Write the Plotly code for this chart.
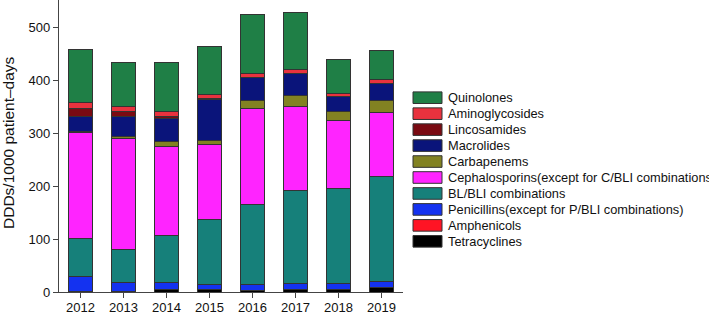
import plotly.graph_objects as go

years = ["2012", "2013", "2014", "2015", "2016", "2017", "2018", "2019"]

tetracyclines = [0.5, 0.5, 3.8, 4.4, 2.0, 5.0, 5.0, 7.6]
amphenicols = [0.3, 0.3, 0.3, 0.3, 0.3, 0.3, 0.3, 0.3]
penicillins = [29.0, 17.5, 14.0, 9.8, 12.7, 11.0, 11.0, 12.9]
bl_bli = [71.0, 62.3, 89.6, 122.0, 150.0, 175.7, 180.2, 197.7]
cephalosporins = [200.0, 209.4, 168.3, 143.0, 181.0, 158.0, 127.2, 121.0]
carbapenems = [3.0, 3.4, 8.6, 7.5, 16.7, 21.5, 17.3, 23.2]
macrolides = [28.5, 38.6, 44.1, 77.6, 42.3, 41.5, 28.0, 31.3]
lincosamides = [15.0, 9.0, 2.3, 2.0, 1.0, 1.0, 1.5, 1.0]
aminoglycosides = [10.5, 9.7, 11.0, 7.4, 7.0, 6.6, 5.5, 7.4]
quinolones = [101.0, 82.3, 91.0, 90.0, 111.5, 107.4, 63.5, 54.1]

names = [
    "Tetracyclines",
    "Amphenicols",
    "Penicillins(except for P/BLI combinations)",
    "BL/BLI combinations",
    "Cephalosporins(except for C/BLI combinations)",
    "Carbapenems",
    "Macrolides",
    "Lincosamides",
    "Aminoglycosides",
    "Quinolones",
]
series = [tetracyclines, amphenicols, penicillins, bl_bli, cephalosporins,
          carbapenems, macrolides, lincosamides, aminoglycosides, quinolones]
colors = ["#000000", "#ff1424", "#1432f0", "#16807a", "#ff24ff",
          "#828222", "#0a147a", "#7a0a12", "#e8323e", "#1f7f46"]

fig = go.Figure()
for name, vals, col in zip(names, series, colors):
    fig.add_trace(go.Bar(
        x=years, y=vals, name=name,
        marker=dict(color=col, line=dict(color="#333333", width=1)),
        showlegend=False,
    ))

# plot area geometry (pixels)
W, H = 709, 314
L, R, T, B = 59, 306, 0, 22
pw = W - L - R
ph = H - T - B

def px_x(x):
    return (x - L) / pw

def px_y(y):
    return (T + ph - y) / ph

shapes = []
annotations = []
row0 = 97.7
step = 15.96
for i, (name, col) in enumerate(zip(names[::-1], colors[::-1])):
    yc = row0 + i * step
    shapes.append(dict(
        type="rect", xref="paper", yref="paper",
        x0=px_x(413), x1=px_x(442), y0=px_y(yc + 5.8), y1=px_y(yc - 5.8),
        fillcolor=col, line=dict(color="#333333", width=1),
    ))
    annotations.append(dict(
        text=name, xref="paper", yref="paper", x=px_x(446), y=px_y(yc),
        xanchor="left", yanchor="middle", showarrow=False,
        font=dict(family="Liberation Sans, Arial", size=12.8, color="#111111"),
    ))

annotations.append(dict(
    text="DDDs/1000 patient\u2013days", xref="paper", yref="paper",
    x=px_x(8), y=px_y(143), textangle=-90, showarrow=False,
    xanchor="center", yanchor="middle",
    font=dict(family="Liberation Sans, Arial", size=15.5, color="#111111"),
))

fig.update_layout(
    width=W, height=H,
    margin=dict(l=L, r=R, t=T, b=B, pad=0),
    barmode="stack",
    bargap=0.42,
    plot_bgcolor="white",
    paper_bgcolor="white",
    font=dict(family="Liberation Sans, Arial", size=13, color="#111111"),
    shapes=shapes,
    annotations=annotations,
    showlegend=False,
)
fig.update_xaxes(
    showline=True, linecolor="#444444", linewidth=1.3,
    ticks="outside", ticklen=5, tickcolor="#444444", tickwidth=1.3,
    showgrid=False, automargin=False, range=[-0.5, 7.5],
    tickfont=dict(size=13), ticklabelstandoff=-2,
)
fig.update_yaxes(
    range=[0, 552], showline=True, linecolor="#444444", linewidth=1.3,
    ticks="outside", ticklen=5, tickcolor="#444444", tickwidth=1.3,
    tickvals=[0, 100, 200, 300, 400, 500],
    showgrid=False, zeroline=False, automargin=False,
    tickfont=dict(size=13),
)

fig.write_html(
    "out.html",
    config={"displayModeBar": False},
    post_script="document.body.style.margin='0';document.body.style.overflow='hidden';",
)
